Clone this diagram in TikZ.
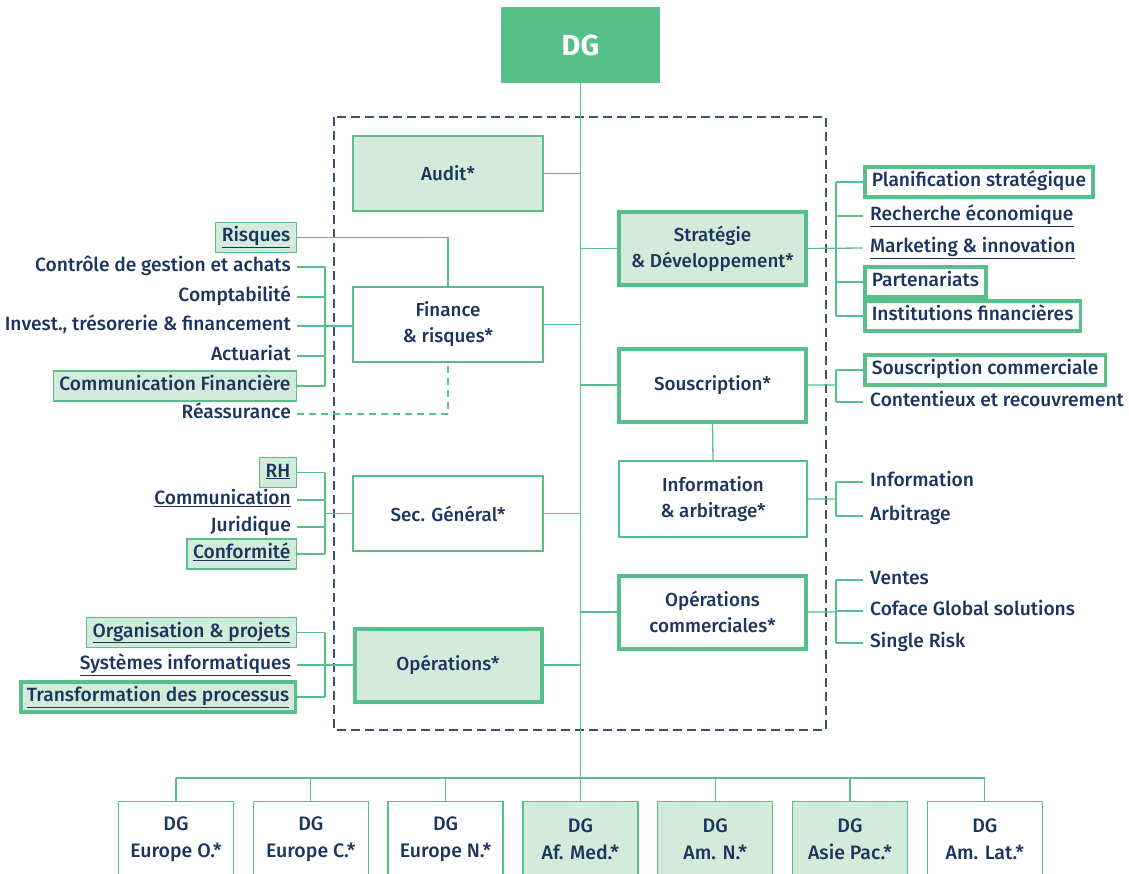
\documentclass[tikz,border=0pt]{standalone}
\usepackage{fontspec}
\IfFontExistsTF{Fira Sans Medium}
  {\setmainfont{Fira Sans Medium}[BoldFont={Fira Sans Bold}]}
  {\setmainfont{Fira Sans}}
\usepackage{xcolor}
\usetikzlibrary{calc,positioning}
\definecolor{cgreen}{HTML}{57C08A}
\definecolor{clight}{HTML}{D4EBDB}
\definecolor{cnavy}{HTML}{1B355E}
\definecolor{cframe}{HTML}{3A5275}

\begin{document}
\begin{tikzpicture}[x=1pt,y=-1pt,
  unit/.style={draw=cgreen,line width=1.3,fill=white,text=cnavy,align=center,
    minimum width=190,minimum height=75,inner sep=0,font=\fontsize{18.8}{26}\selectfont},
  key/.style={unit,fill=clight},
  strong/.style={line width=4,minimum width=187,minimum height=73},
  lab/.style={anchor=east,inner xsep=6,inner ysep=0,minimum height=30,text height=13.5,text depth=4.5,
    text=cnavy,font=\fontsize{19.2}{20}\selectfont},
  labbox/.style={lab,draw=cgreen,line width=1.3,fill=clight},
  rlab/.style={lab,anchor=west,inner xsep=7},
  rbox/.style={rlab,draw=cgreen,line width=3.5,fill=white},
  link/.style={draw=cgreen,line width=1.3},
  region/.style={unit,minimum width=115,minimum height=76,font=\fontsize{19.5}{27}\selectfont}]
  \useasboundingbox (0,0) rectangle (1129,874);
  \clip (0,0) rectangle (1129,874);

  \coordinate (trunk) at (580,0);
  \coordinate (busL) at (325,0);
  \coordinate (busR) at (836,0);
  \coordinate (bar) at (0,778);

  \draw[cframe,line width=1.2,dash pattern=on 9 off 5] (334,117) rectangle (826,730);

  \node[fill=cgreen,text=white,minimum width=159,minimum height=76,
        font=\fontsize{29}{29}\selectfont\bfseries] (dg) at (580.5,45) {DG};

  % central units
  \node[key]         (audit) at (448,173.5) {Audit*};
  \node[unit]        (fin)   at (448,324.5) {Finance\\\& risques*};
  \node[unit]        (sec)   at (448,513.5) {Sec. Général*};
  \node[key,strong]  (ops)   at (448,665)   {Opérations*};
  \node[key,strong]  (strat) at (712.5,248.5) {Stratégie\\\& Développement*};
  \node[unit,strong] (sous)  at (712.5,385)   {Souscription*};
  \node[unit,minimum width=188,minimum height=76] (info) at (713,499) {Information\\\& arbitrage*};
  \node[unit,strong] (opc)   at (712.5,612)   {Opérations\\commerciales*};

  % left side
  \node[labbox] (risq)   at (297,237.5) {\underline{Risques}};
  \node[lab]    (ctrl)   at (297,267)   {Contrôle de gestion et achats};
  \node[lab]    (compt)  at (297,297)   {Comptabilité};
  \node[lab]    (inv)    at (297,326)   {Invest., trésorerie \& financement};
  \node[lab]    (act)    at (297,356)   {Actuariat};
  \node[labbox] (comfin) at (297,386)   {Communication Financière};
  \node[lab]    (reass)  at (297,414)   {Réassurance};

  \node[labbox] (rh)     at (297,472.5) {\underline{RH}};
  \node[lab]    (comm)   at (297,500)   {\underline{Communication}};
  \node[lab]    (jur)    at (297,527)   {Juridique};
  \node[labbox] (conf)   at (297,554)   {\underline{Conformité}};

  \node[labbox] (org)    at (297,632.5) {\underline{Organisation \& projets}};
  \node[lab]    (sys)    at (297,665)   {\underline{Systèmes informatiques}};
  \node[labbox,line width=3.5] (trans) at (297,697) {\underline{Transformation des processus}};

  % right side
  \node[rbox] (plan)   at (863,182) {Planification stratégique};
  \node[rlab] (rech)   at (863,216) {\underline{Recherche économique}};
  \node[rlab] (mark)   at (863,248) {\underline{Marketing \& innovation}};
  \node[rbox] (part)   at (863,282) {Partenariats};
  \node[rbox] (inst)   at (863,316) {Institutions financières};
  \node[rbox] (scom)   at (863,370) {Souscription commerciale};
  \node[rlab] (cont)   at (863,402) {Contentieux et recouvrement};
  \node[rlab] (infol)  at (863,482) {Information};
  \node[rlab] (arb)    at (863,516) {Arbitrage};
  \node[rlab] (vent)   at (863,580) {Ventes};
  \node[rlab] (cgs)    at (863,611) {Coface Global solutions};
  \node[rlab] (single) at (863,643) {Single Risk};

  % regions
  \foreach \name/\txt/\col [count=\i from 0] in
    {eo/Europe O./white, ec/Europe C./white, en/Europe N./white, afm/Af. Med./clight,
     amn/Am. N./clight, asp/Asie Pac./clight, aml/Am. Lat./white}
    \node[region,fill=\col,anchor=north] (\name) at (176+134.8*\i,801) {DG\\\txt*};

  % connectors
  \path[link] (dg.south) -- (dg.south |- bar)
    (eo.north |- bar) -- (aml.north |- bar);
  \foreach \name in {eo,ec,en,afm,amn,asp,aml}
    \path[link] (\name.north) -- (\name.north |- bar);
  \foreach \name in {audit,fin,sec,ops}
    \path[link] (\name.east) -- (\name.east -| trunk);
  \foreach \name in {strat,sous,opc}
    \path[link] (\name.west) -- (\name.west -| trunk);
  \path[link] (sous.south) -- (info.north);

  \path[link] (risq.east) -| (fin.north);
  \path[link,dash pattern=on 7 off 5] (reass.east) -| (fin.south);
  \foreach \name in {ctrl,compt,act,comfin,rh,comm,jur,conf,org,trans}
    \path[link] (\name.east) -- (\name.east -| busL);
  \path[link] (ctrl.east -| busL) -- (comfin.east -| busL)
    (rh.east -| busL) -- (conf.east -| busL)
    (org.east -| busL) -- (trans.east -| busL);
  \path[link] (inv.east) -- (inv.east -| fin.west)
    (sec.west) -- (sec.west -| busL)
    (sys.east) -- (sys.east -| ops.west);

  \foreach \name in {plan,rech,part,inst,scom,cont,infol,arb,vent,cgs,single}
    \path[link] (\name.west) -- (\name.west -| busR);
  \path[link] (plan.west -| busR) -- (inst.west -| busR)
    (scom.west -| busR) -- (cont.west -| busR)
    (infol.west -| busR) -- (arb.west -| busR)
    (vent.west -| busR) -- (single.west -| busR);
  \path[link] (strat.east) -- (mark.west)
    (sous.east) -- (sous.east -| busR)
    (info.east) -- (info.east -| busR)
    (opc.east) -- (opc.east -| busR);
\end{tikzpicture}
\end{document}
